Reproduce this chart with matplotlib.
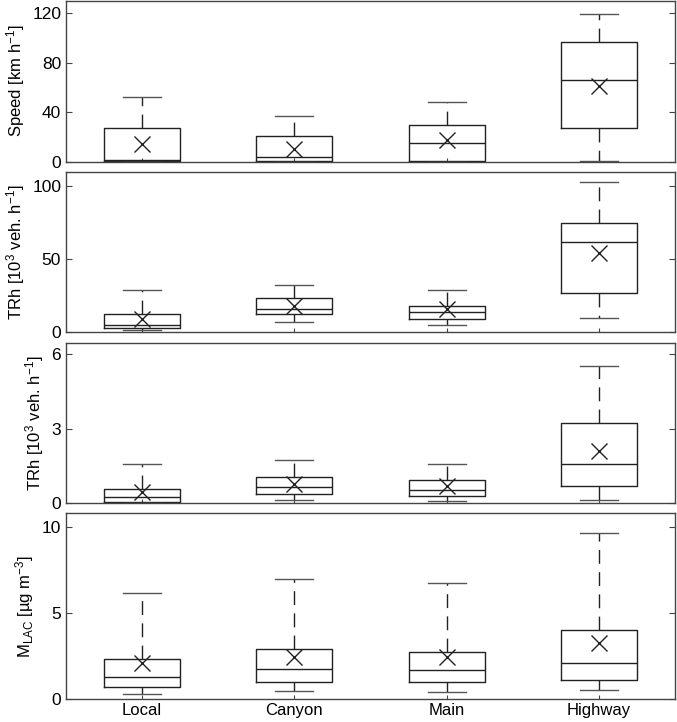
import matplotlib
matplotlib.use('Agg')
import matplotlib.pyplot as plt

plt.rcParams['font.family'] = ['Liberation Sans', 'DejaVu Sans']
plt.rcParams['mathtext.default'] = 'regular'
plt.rcParams['font.size'] = 12

cats = ['Local', 'Canyon', 'Main', 'Highway']

# speed [km/h]
speed_lo = [0.0, 0.0, 0.0, 0.5]
speed_q1 = [0.8, 0.5, 0.5, 27.0]
speed_med = [1.0, 3.5, 15.1, 65.8]
speed_q3 = [27.0, 20.5, 29.4, 96.5]
speed_hi = [52.3, 36.7, 48.5, 119.4]
speed_mean = [14.3, 10.2, 17.5, 61.5]

# traffic rate, upper panel
trh1_lo = [1.1, 7.0, 5.0, 9.3]
trh1_q1 = [2.7, 12.5, 8.6, 26.6]
trh1_med = [5.0, 15.7, 13.9, 61.4]
trh1_q3 = [12.3, 23.2, 17.7, 74.8]
trh1_hi = [28.9, 32.3, 28.4, 102.7]
trh1_mean = [8.9, 17.5, 15.7, 53.9]

# traffic rate, lower panel
trh2_lo = [0.03, 0.15, 0.09, 0.15]
trh2_q1 = [0.07, 0.36, 0.31, 0.68]
trh2_med = [0.24, 0.66, 0.52, 1.57]
trh2_q3 = [0.56, 1.05, 0.93, 3.23]
trh2_hi = [1.58, 1.74, 1.60, 5.53]
trh2_mean = [0.44, 0.77, 0.70, 2.12]

# LAC mass
mlac_lo = [0.29, 0.50, 0.42, 0.52]
mlac_q1 = [0.73, 1.00, 0.98, 1.10]
mlac_med = [1.29, 1.76, 1.68, 2.12]
mlac_q3 = [2.32, 2.90, 2.74, 4.00]
mlac_hi = [6.14, 6.99, 6.72, 9.65]
mlac_mean = [2.08, 2.43, 2.43, 3.24]

panels = [
    (speed_lo, speed_q1, speed_med, speed_q3, speed_hi, speed_mean,
     'Speed [km h$^{-1}$]', (0, 130.5), [0, 40, 80, 120]),
    (trh1_lo, trh1_q1, trh1_med, trh1_q3, trh1_hi, trh1_mean,
     'TRh [10$^3$ veh. h$^{-1}$]', (0, 109.6), [0, 50, 100]),
    (trh2_lo, trh2_q1, trh2_med, trh2_q3, trh2_hi, trh2_mean,
     'TRh [10$^3$ veh. h$^{-1}$]', (0, 6.46), [0, 3, 6]),
    (mlac_lo, mlac_q1, mlac_med, mlac_q3, mlac_hi, mlac_mean,
     'M$_{LAC}$ [µg m$^{-3}$]', (0, 10.8), [0, 5, 10]),
]

W, H = 677, 722
# axes boxes in pixels: (top, bottom)
boxes = [(0.5, 161.7), (171.7, 332), (343, 503.3), (513, 699.3)]
left_px, right_px = 66, 675

fig = plt.figure(figsize=(W / 100, H / 100), dpi=100)
lc = '#222222'

for (lo, q1, med, q3, hi, mn, lab, ylim, yt), (t, b) in zip(panels, boxes):
    ax = fig.add_axes([left_px / W, 1 - b / H, (right_px - left_px) / W, (b - t) / H])
    stats = []
    for i in range(len(cats)):
        stats.append(dict(whislo=lo[i], q1=q1[i], med=med[i], q3=q3[i],
                          whishi=hi[i], mean=mn[i], fliers=[], label=cats[i]))
    ax.bxp(stats, positions=[1, 2, 3, 4], widths=0.5, showmeans=True,
           boxprops=dict(color=lc, lw=1.0),
           medianprops=dict(color=lc, lw=1.0),
           whiskerprops=dict(color=lc, lw=1.0, linestyle=(0, (10, 6))),
           capprops=dict(color='#555555', lw=1.0),
           meanprops=dict(marker='x', markeredgecolor=lc, markersize=11,
                          markeredgewidth=1.0))
    ax.set_xlim(0.5, 4.5)
    ax.set_ylim(*ylim)
    ax.set_yticks(yt)
    ax.set_ylabel(lab, labelpad=4)
    ax.tick_params(axis='y', direction='in', right=True, length=4,
                   color='#444444', labelsize=12.5)
    ax.tick_params(axis='x', direction='in', length=3, color='#444444', pad=3)
    for s in ax.spines.values():
        s.set_color('#444444')
        s.set_linewidth(1.0)
    if b < 690:
        ax.set_xticklabels([])

fig.align_ylabels(fig.axes)
fig.savefig('out.png', dpi=100)
